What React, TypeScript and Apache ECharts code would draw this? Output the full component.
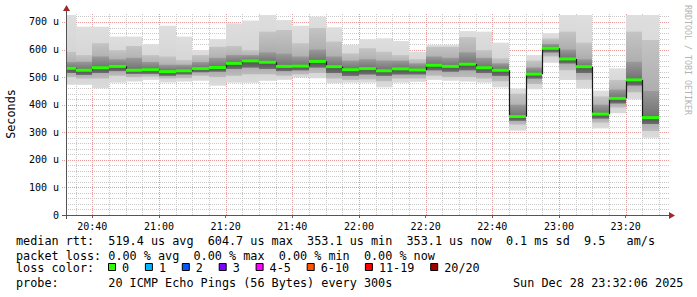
import React, { useEffect, useRef } from "react";
import * as echarts from "echarts";

// ---- data (µs), one entry per 5-minute bar, keyed by bar end time ----
const barEnd = [
  "20:35", "20:40", "20:45", "20:50", "20:55", "21:00", "21:05", "21:10", "21:15",
  "21:20", "21:25", "21:30", "21:35", "21:40", "21:45", "21:50", "21:55", "22:00",
  "22:05", "22:10", "22:15", "22:20", "22:25", "22:30", "22:35", "22:40", "22:45",
  "22:50", "22:55", "23:00", "23:05", "23:10", "23:15", "23:20", "23:25", "23:30",
];
const maxV = [725, 683, 683, 647, 647, 619, 686, 647, 598, 638, 695, 705, 725, 707, 686, 719, 681, 617,
  637, 641, 631, 592, 617, 617, 667, 665, 625, 459, 580, 659, 725, 725, 451, 532, 725, 725];
const hi1 = [592, 580, 623, 598, 613, 580, 575, 562, 580, 610, 613, 598, 665, 671, 623, 678, 629, 586,
  605, 592, 580, 565, 610, 610, 645, 598, 568, 440, 560, 640, 665, 625, 430, 490, 665, 635];
const hi2 = [555, 556, 575, 565, 570, 555, 545, 545, 555, 570, 580, 580, 590, 585, 575, 600, 575, 560,
  565, 560, 560, 550, 575, 570, 590, 570, 550, 400, 535, 620, 600, 565, 400, 455, 556, 450];
const median = [532, 525, 534, 539, 525, 527, 520, 523, 531, 535, 550, 559, 554, 539, 540, 557, 538, 527,
  531, 523, 530, 526, 543, 539, 547, 534, 525, 357, 511, 604.7, 566, 538, 366, 423, 490, 353.1];
const lo2 = [515, 508, 515, 522, 512, 512, 505, 510, 518, 520, 530, 535, 530, 522, 525, 535, 515, 505,
  510, 505, 510, 510, 525, 520, 525, 515, 505, 342, 495, 590, 550, 515, 350, 405, 470, 330];
const lo1 = [500, 495, 495, 505, 500, 502, 495, 497, 505, 500, 505, 510, 510, 505, 510, 515, 495, 490,
  492, 485, 495, 495, 505, 500, 500, 495, 485, 328, 475, 575, 525, 490, 335, 390, 445, 305];
const minV = [472, 472, 460, 480, 484, 490, 481, 484, 487, 469, 480, 480, 487, 490, 499, 496, 478, 480,
  480, 463, 480, 483, 490, 487, 484, 480, 463, 306, 456, 552, 490, 459, 314, 369, 420, 280];

const xTickLabels = ["20:40", "21:00", "21:20", "21:40", "22:00", "22:20", "22:40", "23:00", "23:20"];
const yTickValues = [0, 100, 200, 300, 400, 500, 600, 700];

const statsLine = "median rtt:  519.4 us avg  604.7 us max  353.1 us min  353.1 us now  0.1 ms sd  9.5   am/s";
const lossLine = "packet loss: 0.00 % avg  0.00 % max  0.00 % min  0.00 % now";
const probeLine = "probe:       20 ICMP Echo Pings (56 Bytes) every 300s";
const dateText = "Sun Dec 28 23:32:06 2025";
const lossLabels = ["0", "1", "2", "3", "4-5", "6-10", "11-19", "20/20"];
const lossColors = ["#26ff00", "#00b8ff", "#0059ff", "#7e00ff", "#ff00ff", "#ff5500", "#ff0000", "#a00000"];

// ---- helpers ----
const toMin = (s: string) => {
  const [h, m] = s.split(":").map(Number);
  return h * 60 + m;
};
const START = toMin("20:32") + 6 / 60;
const END = START + 180;
const STEP = 5;
const Y_MAX = 729;

const MONO = "'DejaVu Sans Mono', monospace";
const CW = 7.1;
const FS = 11.8;
const MINOR = "#c8c8c8";
const MAJOR = "#e69a9a";

const fmt = (v: number) => {
  const h = Math.floor(v / 60);
  const m = Math.round(v - h * 60);
  return `${String(h).padStart(2, "0")}:${String(m).padStart(2, "0")}`;
};

function monoLine(str: string, x0: number, y: number) {
  const out: any[] = [];
  const re = /\S+/g;
  let m: RegExpExecArray | null;
  while ((m = re.exec(str))) {
    out.push({
      type: "text",
      x: x0 + m.index * CW,
      y,
      silent: true,
      style: { text: m[0], fontFamily: MONO, fontSize: FS, fill: "#000", verticalAlign: "middle", align: "left" },
    });
  }
  return out;
}

const clamp01 = (v: number) => Math.max(0, Math.min(1, v));

export default function App() {
  const ref = useRef<HTMLDivElement>(null);

  useEffect(() => {
    document.body.style.margin = "0";
    const chart = echarts.init(ref.current!, undefined, { renderer: "svg" });

    const ends = barEnd.map(toMin);
    const smokeData = ends.map((e, i) => [e - STEP, e, minV[i], lo1[i], lo2[i], median[i], hi2[i], hi1[i], maxV[i]]);
    const medData = ends.map((e, i) => [e - STEP, e, median[i], i > 0 ? median[i - 1] : median[i], i]);
    const xTickVals = xTickLabels.map(toMin);

    // grid lines: [value, kind] kind 0 = minor vertical, 1 = major vertical, 2 = minor horizontal, 3 = major horizontal
    const gridData: number[][] = [];
    for (let t = Math.ceil(START / STEP) * STEP; t < END; t += STEP) {
      gridData.push([t, xTickVals.includes(t) ? 1 : 0]);
    }
    for (let v = 20; v < Y_MAX; v += 20) {
      gridData.push([v, v % 100 === 0 ? 3 : 2]);
    }

    // loss colour legend
    const lossGraphics: any[] = [];
    let sx = 108;
    lossLabels.forEach((lab, i) => {
      lossGraphics.push({
        type: "rect",
        silent: true,
        shape: { x: sx + 0.5, y: 263.5, width: 7, height: 7 },
        style: { fill: lossColors[i], stroke: "#000", lineWidth: 1 },
      });
      lossGraphics.push(...monoLine(lab, sx + 14, 268));
      sx += 29.8 + lab.length * CW;
    });

    const option: any = {
      animation: false,
      backgroundColor: "#ffffff",
      grid: { left: 66, top: 14, width: 600, height: 201 },
      xAxis: {
        type: "value",
        min: START,
        max: END,
        axisLine: { show: false },
        splitLine: { show: false },
        axisTick: { show: true, customValues: xTickVals, length: 3, lineStyle: { color: "#666" } },
        axisLabel: { customValues: xTickVals, formatter: fmt, fontFamily: MONO, fontSize: 10, color: "#000", margin: 6 },
      },
      yAxis: {
        type: "value",
        min: 0,
        max: Y_MAX,
        axisLine: { show: false },
        splitLine: { show: false },
        axisTick: { show: false },
        axisLabel: {
          customValues: yTickValues,
          formatter: (v: number) => (v === 0 ? "0" : `${v} u`),
          fontFamily: MONO,
          fontSize: 10,
          color: "#000",
          margin: 7,
        },
      },
      series: [
        {
          type: "custom",
          silent: true,
          clip: false,
          z: 1,
          data: gridData,
          renderItem: (params: any, api: any) => {
            const v = api.value(0);
            const kind = api.value(1);
            const cs = params.coordSys;
            const stroke = kind === 1 || kind === 3 ? MAJOR : MINOR;
            if (kind < 2) {
              const x = Math.round(api.coord([v, 0])[0]) + 0.5;
              return {
                type: "line",
                shape: { x1: x, y1: cs.y, x2: x, y2: cs.y + cs.height },
                style: { stroke, lineWidth: 1, lineDash: [1, 1] },
              };
            }
            const y = Math.round(api.coord([START, v])[1]) + 0.5;
            return {
              type: "line",
              shape: { x1: cs.x - (kind === 3 ? 4 : 0), y1: y, x2: cs.x + cs.width + 3, y2: y },
              style: { stroke, lineWidth: 1, lineDash: [1, 1] },
            };
          },
        },
        {
          type: "custom",
          silent: true,
          clip: true,
          z: 2,
          data: smokeData,
          renderItem: (_p: any, api: any) => {
            const s = api.value(0);
            const x0 = Math.round(api.coord([s, 0])[0]);
            const x1 = Math.round(api.coord([api.value(1), 0])[0]);
            const Y = (i: number) => api.coord([s, api.value(i)])[1];
            const yMed = Y(5);
            const band = (lo: number, hi: number, top: string, mid: string, bottom: string) => {
              const yt = Y(hi);
              const yb = Y(lo);
              const off = clamp01((yMed - yt) / Math.max(1, yb - yt));
              return {
                type: "rect",
                shape: { x: x0, y: yt, width: x1 - x0, height: yb - yt },
                style: {
                  fill: new echarts.graphic.LinearGradient(0, 0, 0, 1, [
                    { offset: 0, color: top },
                    { offset: off, color: mid },
                    { offset: 1, color: bottom },
                  ]),
                },
              };
            };
            return {
              type: "group",
              children: [
                band(2, 8, "#dedede", "#d2d2d2", "#dadada"),
                band(3, 7, "#c4c4c4", "#a2a2a2", "#bcbcbc"),
                band(4, 6, "#9a9a9a", "#707070", "#888888"),
                band(4, 5, "#505050", "#505050", "#6e6e6e"),
              ],
            };
          },
        },
        {
          type: "custom",
          silent: true,
          clip: true,
          z: 3,
          data: medData,
          renderItem: (_p: any, api: any) => {
            const s = api.value(0);
            const x0 = Math.round(api.coord([s, 0])[0]);
            const x1 = Math.round(api.coord([api.value(1), 0])[0]);
            const y = api.coord([s, api.value(2)])[1];
            const yp = api.coord([s, api.value(3)])[1];
            const children: any[] = [];
            if (api.value(4) > 0) {
              children.push({
                type: "line",
                shape: { x1: x0 + 0.5, y1: yp, x2: x0 + 0.5, y2: y },
                style: { stroke: "#1a1a1a", lineWidth: 1.2 },
              });
            }
            children.push({
              type: "rect",
              shape: { x: x0, y: y - 1.5, width: x1 - x0, height: 3 },
              style: { fill: "#26ff00" },
            });
            return { type: "group", children };
          },
        },
      ],
      graphic: [
        // axes
        { type: "line", silent: true, z: 10, shape: { x1: 66.5, y1: 11, x2: 66.5, y2: 219 }, style: { stroke: "#555", lineWidth: 1 } },
        { type: "line", silent: true, z: 10, shape: { x1: 62, y1: 215.5, x2: 669, y2: 215.5 }, style: { stroke: "#555", lineWidth: 1 } },
        { type: "polygon", silent: true, z: 10, shape: { points: [[63, 11], [70, 11], [66.5, 5]] }, style: { fill: "#a02828" } },
        { type: "polygon", silent: true, z: 10, shape: { points: [[669, 212], [669, 219], [675, 215.5]] }, style: { fill: "#a02828" } },
        // y axis name
        {
          type: "text",
          silent: true,
          x: 11,
          y: 114,
          rotation: Math.PI / 2,
          style: { text: "Seconds", fontFamily: MONO, fontSize: FS, fill: "#000", align: "center", verticalAlign: "middle" },
        },
        // watermark
        {
          type: "text",
          silent: true,
          x: 688,
          y: 60,
          rotation: -Math.PI / 2,
          style: { text: "RRDTOOL / TOBI OETIKER", fontFamily: MONO, fontSize: 8.3, fill: "#b4b4b4", align: "center", verticalAlign: "middle" },
        },
        ...monoLine(statsLine, 16, 241),
        ...monoLine(lossLine, 16, 255.5),
        ...monoLine("loss color:", 16, 268),
        ...lossGraphics,
        ...monoLine(probeLine, 16, 283),
        {
          type: "text",
          silent: true,
          x: 513,
          y: 283,
          style: { text: dateText, fontFamily: MONO, fontSize: FS, fill: "#000", verticalAlign: "middle", align: "left" },
        },
      ],
    };

    chart.setOption(option);
    return () => chart.dispose();
  }, []);

  return <div ref={ref} style={{ width: 697, height: 297 }} />;
}
